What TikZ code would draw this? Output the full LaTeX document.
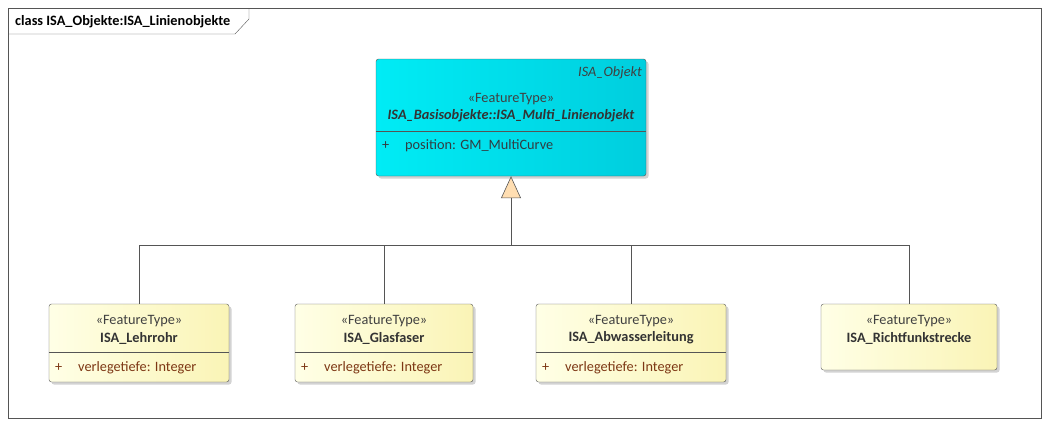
\documentclass[tikz,border=0pt]{standalone}
\usepackage{fontspec}
\setmainfont{Carlito}
\usetikzlibrary{arrows.meta, shadows}

\definecolor{cyanL}{RGB}{0,236,245}
\definecolor{cyanR}{RGB}{0,206,222}
\definecolor{yelL}{RGB}{255,255,230}
\definecolor{yelR}{RGB}{250,244,182}
\definecolor{attrcol}{RGB}{125,55,20}
\definecolor{poscol}{RGB}{50,60,65}
\definecolor{trifill}{RGB}{255,222,178}
\definecolor{edgecol}{RGB}{85,85,85}

\begin{document}
\begin{tikzpicture}[x=1pt, y=-1pt,
    font=\fontsize{14.3}{16}\selectfont,
    cls/.style = {draw=edgecol, rounded corners=2.5pt, inner sep=0pt,
      drop shadow={opacity=0.35, shadow xshift=2.5pt, shadow yshift=-2.5pt}},
    feat/.style = {cls, left color=yelL, right color=yelR},
    basis/.style = {cls, left color=cyanL, right color=cyanR},
    ster/.style = {inner sep=0pt, text=black!75},
    clsname/.style = {inner sep=0pt, font=\fontsize{14.3}{16}\selectfont\bfseries, text=black!80},
    attr/.style = {inner sep=0pt, anchor=west, text=attrcol},
    sep/.style = {draw=edgecol},
    conn/.style = {draw=edgecol, line width=0.6pt},
    inherit/.style = {conn, -{Triangle[open, fill=trifill, length=22pt, width=20pt]}}]
  \useasboundingbox (0,0) rectangle (1049,426);

  % frame with title tab
  \draw[edgecol] (8,8) rectangle (1041,418);
  \draw[edgecol] (8,34) -- (235,34) -- (249,19) -- (249,8);
  \node[anchor=west, inner sep=0pt, font=\fontsize{14.3}{16}\selectfont\bfseries] (title) at (15,21.5) {class ISA\_Objekte:ISA\_Linienobjekte};

  % base class
  \node[basis, minimum width=270pt, minimum height=117pt] (multi) at (511,117.5) {};
  \node[ster, anchor=east, font=\fontsize{14.3}{16}\selectfont\itshape] (multi-abs) at (642,72.5) {ISA\_Objekt};
  \node[ster] (multi-st) at (511,99) {«FeatureType»};
  \node[clsname, font=\fontsize{14.3}{16}\selectfont\bfseries\itshape] (multi-name) at (511,116) {ISA\_Basisobjekte::ISA\_Multi\_Linienobjekt};
  \draw[sep] (multi.west |- 0,131) -- (multi.east |- 0,131);
  \node[attr, text=poscol] (multi-plus) at (382,146) {+};
  \node[attr, text=poscol] (multi-pos) at (405,146) {position: GM\_MultiCurve};

  % feature types
  \node[feat, minimum width=180pt, minimum height=78pt] (lehrrohr) at (139,343) {};
  \node[ster] (lehrrohr-st) at (139,321) {«FeatureType»};
  \node[clsname] (lehrrohr-name) at (139,338) {ISA\_Lehrrohr};
  \draw[sep] (lehrrohr.west |- 0,352) -- (lehrrohr.east |- 0,352);
  \node[attr] (lehrrohr-plus) at (55,368) {+};
  \node[attr] (lehrrohr-att) at (78,368) {verlegetiefe: Integer};

  \node[feat, minimum width=178pt, minimum height=78pt] (glas) at (384,343) {};
  \node[ster] (glas-st) at (384,321) {«FeatureType»};
  \node[clsname] (glas-name) at (384,338) {ISA\_Glasfaser};
  \draw[sep] (glas.west |- 0,352) -- (glas.east |- 0,352);
  \node[attr] (glas-plus) at (301,368) {+};
  \node[attr] (glas-att) at (324,368) {verlegetiefe: Integer};

  \node[feat, minimum width=190pt, minimum height=78pt] (abwasser) at (631,343) {};
  \node[ster] (abwasser-st) at (631,321) {«FeatureType»};
  \node[clsname] (abwasser-name) at (631,338) {ISA\_Abwasserleitung};
  \draw[sep] (abwasser.west |- 0,352) -- (abwasser.east |- 0,352);
  \node[attr] (abwasser-plus) at (542,368) {+};
  \node[attr] (abwasser-att) at (565,368) {verlegetiefe: Integer};

  \node[feat, minimum width=176pt, minimum height=66pt] (richtfunk) at (909,337) {};
  \node[ster] (richtfunk-st) at (909,321) {«FeatureType»};
  \node[clsname] (richtfunk-name) at (909,338) {ISA\_Richtfunkstrecke};

  % generalization
  \coordinate (bus) at (511,245);
  \draw[conn] (lehrrohr.north) |- (bus);
  \draw[conn] (richtfunk.north) |- (bus);
  \draw[conn] (glas.north) -- (glas.north |- bus);
  \draw[conn] (abwasser.north) -- (abwasser.north |- bus);
  \draw[inherit] (bus) -- (multi.south);
\end{tikzpicture}
\end{document}
